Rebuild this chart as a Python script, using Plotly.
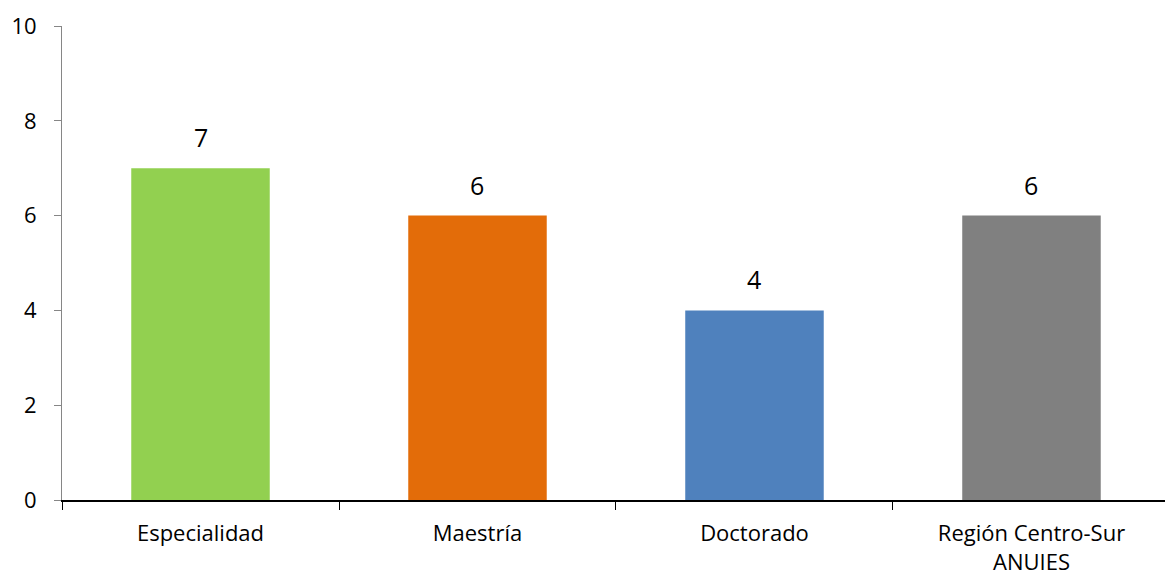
import plotly.graph_objects as go

categories = ["Especialidad", "Maestría", "Doctorado", "Región Centro-Sur<br>ANUIES"]
values = [7, 6, 4, 6]
colors = ["#92D050", "#E36C09", "#4F81BD", "#808080"]
y_ticks = [0, 2, 4, 6, 8, 10]

fig = go.Figure(
    go.Bar(
        x=categories,
        y=values,
        marker=dict(color=colors, line=dict(width=0)),
        width=0.5,
        cliponaxis=False,
    )
)

# value labels above each bar
for cat, val in zip(categories, values):
    fig.add_annotation(
        x=cat,
        y=val,
        text=str(val),
        showarrow=False,
        yanchor="bottom",
        yshift=12,
        font=dict(size=25, color="#000000", family="Open Sans"),
    )

fig.update_layout(
    width=1165,
    height=576,
    margin=dict(l=62, r=0, t=26, b=76),
    paper_bgcolor="white",
    plot_bgcolor="white",
    showlegend=False,
    font=dict(family="Open Sans", color="#000000"),
)

fig.update_xaxes(
    type="category",
    range=[-0.5, 3.482],
    showline=True,
    linecolor="#000000",
    linewidth=2,
    ticks="outside",
    tickson="boundaries",
    ticklen=8,
    tickcolor="#000000",
    tickwidth=1,
    showgrid=False,
    tickfont=dict(size=22, family="Open Sans"),
    ticklabelstandoff=13,
)

fig.update_yaxes(
    range=[0, 10],
    tickvals=y_ticks,
    showline=True,
    linecolor="#868686",
    linewidth=1,
    ticks="outside",
    ticklen=7,
    tickcolor="#868686",
    showgrid=False,
    zeroline=False,
    tickfont=dict(size=22, family="Open Sans"),
    ticklabelstandoff=13,
)

fig.write_html("out.html")
